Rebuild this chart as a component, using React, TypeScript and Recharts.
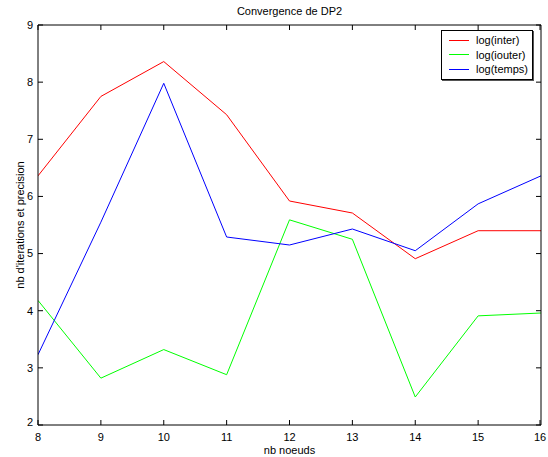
import { LineChart, Line, XAxis, YAxis, Legend } from "recharts"

const nodes = [8, 9, 10, 11, 12, 13, 14, 15, 16]
const logInter = [6.36, 7.75, 8.36, 7.43, 5.92, 5.71, 4.91, 5.4, 5.4]
const logIouter = [4.18, 2.82, 3.32, 2.88, 5.59, 5.25, 2.49, 3.91, 3.96]
const logTemps = [3.23, 5.55, 7.98, 5.29, 5.15, 5.43, 5.05, 5.87, 6.36]

const xTicks = [8, 9, 10, 11, 12, 13, 14, 15, 16]
const yTicks = [2, 3, 4, 5, 6, 7, 8, 9]

const data = nodes.map((n, i) => ({
  n,
  inter: logInter[i],
  iouter: logIouter[i],
  temps: logTemps[i],
}))

const font = "'Liberation Sans', Arial, Helvetica, sans-serif"
const axisLine = { stroke: "#000", strokeWidth: 1 }
const TICK = 5
const GAP_X = 8
const GAP_Y = 5

// matlab style: tick marks point into the plot box
function BottomTick({ x, y, payload }: any) {
  const ay = y - GAP_X
  return (
    <g>
      <line x1={x} x2={x} y1={ay} y2={ay - TICK} stroke="#000" />
      <text x={x} y={y} dy="0.71em" textAnchor="middle" fontSize={11} fontFamily={font} fill="#000">
        {payload.value}
      </text>
    </g>
  )
}

function LeftTick({ x, y, payload }: any) {
  const ax = x + GAP_Y
  return (
    <g>
      <line x1={ax} x2={ax + TICK} y1={y} y2={y} stroke="#000" />
      <text x={x} y={y} dy={payload.value === 2 ? "0.1em" : "0.355em"} textAnchor="end" fontSize={11} fontFamily={font} fill="#000">
        {payload.value}
      </text>
    </g>
  )
}

function TopTick({ x, y }: any) {
  return <line x1={x} x2={x} y1={y} y2={y + TICK} stroke="#000" />
}

function RightTick({ x, y }: any) {
  return <line x1={x - TICK} x2={x} y1={y} y2={y} stroke="#000" />
}

function LegendBox({ payload }: any) {
  return (
    <div
      style={{
        border: "1px solid #000",
        background: "#fff",
        boxShadow: "1px 1px 0 #555",
        padding: "2px 4px 2px 7px",
        fontFamily: font,
        fontSize: 11,
        lineHeight: "14.5px",
        color: "#000",
        textAlign: "left",
      }}
    >
      {(payload || []).map((p: any) => (
        <div key={p.value} style={{ display: "flex", alignItems: "center" }}>
          <span
            style={{
              display: "inline-block",
              width: 20,
              height: 0,
              borderTop: `1px solid ${p.color}`,
              marginRight: 7,
            }}
          />
          <span>{p.value}</span>
        </div>
      ))}
    </div>
  )
}

export default function App() {
  return (
    <div style={{ position: "absolute", left: 0, top: 0, background: "#fff" }}>
      <LineChart
        width={548}
        height={457}
        data={data}
        margin={{ top: 24, right: 6, left: 0, bottom: 0 }}
      >
        <XAxis
          dataKey="n"
          type="number"
          domain={[8, 16]}
          allowDataOverflow
          ticks={xTicks}
          tick={<BottomTick />}
          tickSize={0}
          tickMargin={GAP_X}
          axisLine={axisLine}
          tickLine={false}
          height={32}
          label={{
            value: "nb noeuds",
            position: "insideBottom",
            offset: 3,
            style: { fontSize: 11, fill: "#000", fontFamily: font },
          }}
        />
        <XAxis
          xAxisId="top"
          orientation="top"
          dataKey="n"
          type="number"
          domain={[8, 16]}
          allowDataOverflow
          ticks={xTicks}
          tick={<TopTick />}
          tickSize={0}
          tickMargin={0}
          axisLine={axisLine}
          tickLine={false}
          height={1}
          label={{
            value: "Convergence de DP2",
            position: "top",
            offset: 9,
            style: { fontSize: 11, fill: "#000", fontFamily: font },
          }}
        />
        <YAxis
          type="number"
          domain={[2, 9]}
          allowDataOverflow
          ticks={yTicks}
          tick={<LeftTick />}
          tickSize={0}
          tickMargin={GAP_Y}
          axisLine={axisLine}
          tickLine={false}
          width={38}
          label={{
            value: "nb d'iterations et precision",
            angle: -90,
            position: "insideLeft",
            offset: 20,
            style: { textAnchor: "middle", fontSize: 11, fill: "#000", fontFamily: font },
          }}
        />
        <YAxis
          yAxisId="right"
          orientation="right"
          type="number"
          domain={[2, 9]}
          allowDataOverflow
          ticks={yTicks}
          tick={<RightTick />}
          tickSize={0}
          tickMargin={0}
          axisLine={axisLine}
          tickLine={false}
          width={1}
        />
        <Legend
          layout="vertical"
          align="center"
          verticalAlign="middle"
          content={<LegendBox />}
          wrapperStyle={{ top: 30, left: 441, right: "auto", width: "auto" }}
        />
        <Line
          dataKey="inter"
          name="log(inter)"
          stroke="#ff0000"
          strokeWidth={1}
          dot={false}
          isAnimationActive={false}
        />
        <Line
          dataKey="iouter"
          name="log(iouter)"
          xAxisId="top"
          yAxisId="right"
          stroke="#00ff00"
          strokeWidth={1}
          dot={false}
          isAnimationActive={false}
        />
        <Line
          dataKey="temps"
          name="log(temps)"
          xAxisId="top"
          stroke="#0000ff"
          strokeWidth={1}
          dot={false}
          isAnimationActive={false}
        />
      </LineChart>
    </div>
  )
}
